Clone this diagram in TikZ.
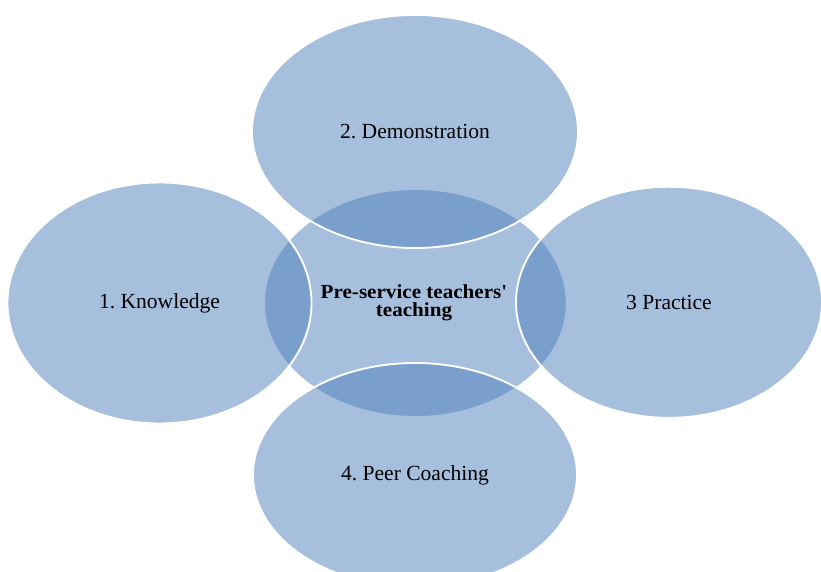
\documentclass[tikz,border=0pt]{standalone}
\usepackage{fontspec}
\setmainfont{Liberation Serif}
\usetikzlibrary{shapes.geometric}
\definecolor{vennblue}{HTML}{4F81BD}
\tikzset{
  venn/.style={ellipse, inner sep=0pt, fill=vennblue, fill opacity=0.5,
    text opacity=1, draw=white, line width=1.6pt, text=black,
    font=\frenchspacing\fontsize{18.4}{22}\selectfont},
  hubtitle/.style={font=\frenchspacing\bfseries\fontsize{17}{15.6}\selectfont,
    align=center, inner sep=0pt, text=black}
}
\newcommand{\widen}[1]{\scalebox{1.06}[1]{#1}}
\begin{document}
\begin{tikzpicture}[x=0.03cm, y=-0.03cm]
  \clip (0,0) rectangle (821,572);
  \fill[white] (0,0) rectangle (821,572);
  % central ellipse first, the four satellites overlap it
  \node[venn, minimum width={303*0.03cm}, minimum height={228*0.03cm}]
    (hubnode) at (415.3,303) {};
  \node[venn, minimum width={304*0.03cm}, minimum height={241*0.03cm}]
    (know) at (159.5,303) {1. Knowledge};
  \node[venn, minimum width={326*0.03cm}, minimum height={233*0.03cm}]
    (demo) at (415,131.5) {2. Demonstration};
  \node[venn, minimum width={306*0.03cm}, minimum height={231*0.03cm}]
    (prac) at (669,302.3) {3 Practice};
  \node[venn, minimum width={324*0.03cm}, minimum height={224*0.03cm}]
    (peer) at (415,475) {4. Peer Coaching};
  % title of the central ellipse (anchored on the baseline of its last line)
  \node[hubtitle, anchor=base] (hubtext) at (414,316.7)
    {\widen{Pre-service teachers\textquotesingle}\\\widen{teaching}};
\end{tikzpicture}
\end{document}
